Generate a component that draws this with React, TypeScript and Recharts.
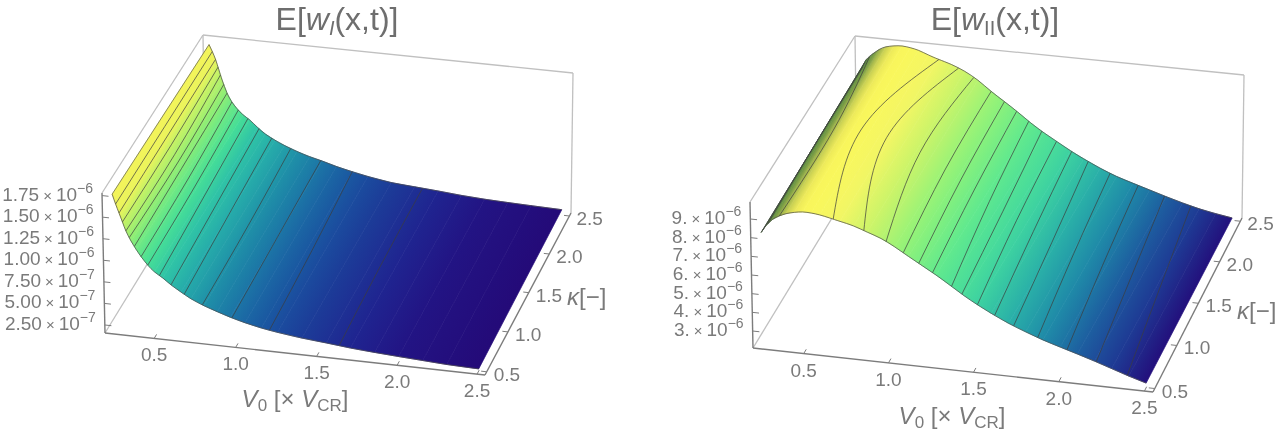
import { ScatterChart, Scatter, XAxis, YAxis } from 'recharts';

// values in units of 1e-6
const leftV = [0.25, 0.27, 0.29, 0.31, 0.33, 0.36, 0.39, 0.42, 0.46, 0.5, 0.55, 0.6, 0.66, 0.72, 0.8, 0.88, 0.96, 1.05, 1.15, 1.25, 1.4, 1.55, 1.7, 1.85, 2.0, 2.15, 2.3, 2.5];
const leftFront = [1.74, 1.63, 1.53, 1.43, 1.33, 1.22, 1.13, 1.05, 0.96, 0.89, 0.83, 0.76, 0.69, 0.625, 0.56, 0.508, 0.46, 0.415, 0.375, 0.345, 0.31, 0.285, 0.257, 0.237, 0.22, 0.205, 0.19, 0.18];
const leftBack = [1.71, 1.63, 1.54, 1.42, 1.3, 1.15, 1.05, 0.98, 0.91, 0.86, 0.78, 0.71, 0.65, 0.6, 0.545, 0.5, 0.465, 0.42, 0.38, 0.345, 0.305, 0.287, 0.27, 0.25, 0.237, 0.23, 0.225, 0.22];
const leftMeshFront = [0.27, 0.29, 0.31, 0.33, 0.35, 0.38, 0.42, 0.46, 0.53, 0.6, 0.68, 0.79, 0.97, 1.2, 1.63];
const leftMeshMid = [0.27, 0.29, 0.31, 0.33, 0.35, 0.37, 0.41, 0.45, 0.51, 0.58, 0.66, 0.78, 0.96, 1.18, 1.61];
const leftMeshBack = [0.27, 0.29, 0.305, 0.32, 0.34, 0.36, 0.39, 0.43, 0.49, 0.56, 0.64, 0.76, 0.95, 1.15, 1.6];

const rightV = [0.25, 0.28, 0.32, 0.36, 0.4, 0.45, 0.5, 0.55, 0.6, 0.66, 0.72, 0.8, 0.88, 0.96, 1.04, 1.12, 1.2, 1.28, 1.36, 1.44, 1.52, 1.6, 1.7, 1.8, 1.9, 2.0, 2.1, 2.2, 2.3, 2.4, 2.5];
const rightFront = [8.15, 8.55, 8.92, 9.14, 9.3, 9.42, 9.49, 9.48, 9.43, 9.32, 9.2, 9.03, 8.78, 8.52, 8.15, 7.72, 7.3, 6.88, 6.42, 5.95, 5.53, 5.15, 4.72, 4.36, 4.03, 3.75, 3.48, 3.2, 2.9, 2.6, 2.33];
const rightBack = [8.32, 8.85, 9.2, 9.48, 9.66, 9.76, 9.8, 9.75, 9.65, 9.45, 9.27, 9.05, 8.75, 8.33, 7.79, 7.3, 6.8, 6.27, 5.8, 5.38, 4.97, 4.6, 4.18, 3.82, 3.54, 3.27, 3.0, 2.75, 2.53, 2.36, 2.22];
const rightMeshFront = [0.26, 0.29, 0.36, 0.68, 0.86, 0.99, 1.09, 1.18, 1.26, 1.37, 1.43, 1.52, 1.62, 1.73, 1.87, 2.04, 2.21, 2.39];
const rightMeshMid = [0.26, 0.28, 0.38, 0.55, 0.7, 0.9, 1.05, 1.14, 1.22, 1.31, 1.39, 1.47, 1.57, 1.68, 1.81, 1.98, 2.15, 2.32];
const rightMeshBack = [0.255, 0.27, 0.3, 0.724, 0.843, 0.935, 1.04, 1.12, 1.194, 1.267, 1.346, 1.435, 1.527, 1.627, 1.76, 1.93, 2.09, 2.25];

const vTicks = [0.5, 1.0, 1.5, 2.0, 2.5];
const kappaTicks = [0.5, 1.0, 1.5, 2.0, 2.5];
const leftZTicks = [0.25, 0.5, 0.75, 1.0, 1.25, 1.5, 1.75];
const leftZLabels = [['2.50', '-7'], ['5.00', '-7'], ['7.50', '-7'], ['1.00', '-6'], ['1.25', '-6'], ['1.50', '-6'], ['1.75', '-6']];
const rightZTicks = [3, 4, 5, 6, 7, 8, 9];
const rightZLabels = [['3.', '-6'], ['4.', '-6'], ['5.', '-6'], ['6.', '-6'], ['7.', '-6'], ['8.', '-6'], ['9.', '-6']];

const leftColors: [number, string][] = [[0.25, '#f4f45a'], [0.29, '#eaf45c'], [0.31, '#c8f265'], [0.35, '#96ee72'], [0.4, '#66e888'], [0.46, '#45dd98'], [0.55, '#30c4a6'], [0.65, '#26aeaa'], [0.8, '#1f90a8'], [1.0, '#1b6ea5'], [1.2, '#1a50a0'], [1.4, '#1c3c98'], [1.7, '#1f2490'], [2.0, '#221484'], [2.5, '#240a78']];
const rightColors: [number, string][] = [[0.25, '#4a7a3c'], [0.3, '#5a8a40'], [0.34, '#7f9f46'], [0.38, '#b4c250'], [0.43, '#e4e258'], [0.48, '#f7f45c'], [0.55, '#f9f75c'], [0.7, '#f4f664'], [0.9, '#c8f46a'], [1.1, '#8ef27a'], [1.3, '#5ce890'], [1.5, '#3fd5a0'], [1.7, '#2ab0a8'], [1.9, '#1f8aa8'], [2.1, '#1d5fa0'], [2.3, '#1e3a94'], [2.5, '#230f7c']];

type Pt = [number, number];
const leftFrame = { b00: [105, 333], b10: [485, 375], b11: [571, 213], b01: [205, 170], t00: [102, 193], t10: [483, 233], t11: [573, 73], t01: [203, 35], zLo: 0.157, zHi: 1.78 };
const rightFrame = { b00: [753, 348], b10: [1153, 392], b11: [1242, 218], b01: [857, 177], t00: [750, 202], t10: [1151, 245], t11: [1244, 75], t01: [855, 36], zLo: 2.09, zHi: 9.91 };
const V_LO = 0.2, V_HI = 2.55, K_LO = 0.46, K_HI = 2.54;

const GREY = '#7a7a7a';
const FONT = '"Liberation Sans", Arial, sans-serif';

function quadMap(p00: number[], p10: number[], p11: number[], p01: number[]) {
  const dx1 = p10[0] - p11[0], dx2 = p01[0] - p11[0], sx = p00[0] - p10[0] + p11[0] - p01[0];
  const dy1 = p10[1] - p11[1], dy2 = p01[1] - p11[1], sy = p00[1] - p10[1] + p11[1] - p01[1];
  const den = dx1 * dy2 - dx2 * dy1;
  const g = (sx * dy2 - dx2 * sy) / den, h = (dx1 * sy - sx * dy1) / den;
  const a = p10[0] - p00[0] + g * p10[0], b = p01[0] - p00[0] + h * p01[0];
  const d = p10[1] - p00[1] + g * p10[1], e = p01[1] - p00[1] + h * p01[1];
  return (u: number, v: number): Pt => {
    const w = g * u + h * v + 1;
    return [(a * u + b * v + p00[0]) / w, (d * u + e * v + p00[1]) / w];
  };
}

function makeProjection(f: typeof leftFrame) {
  const low = quadMap(f.b00, f.b10, f.b11, f.b01);
  const high = quadMap(f.t00, f.t10, f.t11, f.t01);
  return (V: number, k: number, z: number) => {
    const u = (V - V_LO) / (V_HI - V_LO), v = (k - K_LO) / (K_HI - K_LO), t = (z - f.zLo) / (f.zHi - f.zLo);
    const a = low(u, v), b = high(u, v);
    return { x: a[0] + (b[0] - a[0]) * t, y: a[1] + (b[1] - a[1]) * t };
  };
}

function lookup(xs: number[], ys: number[], x: number) {
  let i = 0;
  while (i < xs.length - 2 && xs[i + 1] < x) i++;
  const t = (x - xs[i]) / (xs[i + 1] - xs[i]);
  return ys[i] + (ys[i + 1] - ys[i]) * t;
}

function colorAt(stops: [number, string][], V: number) {
  let i = 0;
  while (i < stops.length - 2 && stops[i + 1][0] < V) i++;
  const t = Math.min(1, Math.max(0, (V - stops[i][0]) / (stops[i + 1][0] - stops[i][0])));
  const hex = (s: string, n: number) => parseInt(s.slice(1 + 2 * n, 3 + 2 * n), 16);
  const c = [0, 1, 2].map(n => Math.round(hex(stops[i][1], n) + (hex(stops[i + 1][1], n) - hex(stops[i][1], n)) * t));
  return `rgb(${c.join(',')})`;
}

const noMark = () => <g />;

function stripLine(id: string, from: string, to: string) {
  return (props: any) => {
    const [p0, p1, p2, p3] = props.points;
    const ux = p1.x - p0.x, uy = p1.y - p0.y, vx = p3.x - p0.x, vy = p3.y - p0.y;
    const s = (ux * vx + uy * vy) / (vx * vx + vy * vy);
    const gx = ux - vx * s, gy = uy - vy * s;
    return (
      <g>
        <defs>
          <linearGradient id={id} gradientUnits="userSpaceOnUse" x1={p0.x} y1={p0.y} x2={p0.x + gx} y2={p0.y + gy}>
            <stop offset="0" stopColor={from} />
            <stop offset="1" stopColor={to} />
          </linearGradient>
        </defs>
        <polygon points={props.points.map((p: any) => `${p.x},${p.y}`).join(' ')} fill={`url(#${id})`} stroke={`url(#${id})`} strokeWidth={0.7} />
      </g>
    );
  };
}

function plainText(size: number, anchor: string, content: any, fill = GREY) {
  return (props: any) => (
    <text x={props.cx} y={props.cy} fontSize={size} fontFamily={FONT} fill={fill} textAnchor={anchor}>{content(props.payload)}</text>
  );
}

interface PanelProps {
  name: string; left: number; frame: typeof leftFrame;
  V: number[]; front: number[]; back: number[];
  meshFront: number[]; meshMid: number[]; meshBack: number[];
  colors: [number, string][];
  zTicks: number[]; zLabels: string[][];
  title: any; titleAt: { x: number; y: number };
  axisAt: { x: number; y: number }; kappaAt: { x: number; y: number };
}

function Panel(p: PanelProps) {
  const project = makeProjection(p.frame);
  const f = p.frame;
  const toPt = (a: number[]) => ({ x: a[0], y: a[1] });
  const backBox = [[f.b00, f.b01], [f.b01, f.t01], [f.t00, f.t01], [f.t01, f.t11], [f.t11, f.b11]];
  const axisBox = [[f.b00, f.b10], [f.b10, f.b11], [f.b00, f.t00]];
  const zAt = (V: number, k: number) => {
    const a = lookup(p.V, p.front, V), b = lookup(p.V, p.back, V);
    return a + (b - a) * (k - 0.5) / 2;
  };
  const strips = p.V.slice(0, -1).map((v, i) => i).reverse();
  const vTickLabels = vTicks.map(v => ({ ...project(v, K_LO, f.zLo), label: v.toFixed(1) }));
  const kTickLabels = kappaTicks.map(k => ({ ...project(V_HI, k, f.zLo), label: k.toFixed(1) }));
  const zTickLabels = p.zTicks.map((z, i) => ({ ...project(V_LO, K_LO, z), label: p.zLabels[i] }));
  return (
    <ScatterChart width={640} height={432} margin={{ top: 0, right: 0, bottom: 0, left: 0 }} style={{ position: 'absolute', left: p.left, top: 0 }}>
      <XAxis type="number" dataKey="x" hide domain={[p.left, p.left + 640]} allowDataOverflow />
      <YAxis type="number" dataKey="y" hide reversed domain={[0, 432]} allowDataOverflow width={0} />
      {backBox.map((seg, i) => (
        <Scatter key={`box${i}`} data={seg.map(toPt)} shape={noMark} line={{ stroke: '#c0c0c0', strokeWidth: 1.3 }} isAnimationActive={false} />
      ))}
      {strips.map(i => (
        <Scatter key={`strip${i}`} isAnimationActive={false} shape={noMark}
          data={[project(p.V[i], 0.5, p.front[i]), project(p.V[i + 1], 0.5, p.front[i + 1]), project(p.V[i + 1], 2.5, p.back[i + 1]), project(p.V[i], 2.5, p.back[i])]}
          line={stripLine(`${p.name}-strip-${i}`, colorAt(p.colors, p.V[i]), colorAt(p.colors, p.V[i + 1]))} />
      ))}
      {p.meshFront.map((v, i) => (
        <Scatter key={`mesh${i}`} isAnimationActive={false} shape={noMark} lineJointType="natural"
          data={[project(v, 0.5, zAt(v, 0.5)), project(p.meshMid[i], 1.5, zAt(p.meshMid[i], 1.5)), project(p.meshBack[i], 2.5, zAt(p.meshBack[i], 2.5))]}
          line={{ stroke: '#3c3c3c', strokeWidth: 1, strokeOpacity: 0.7 }} />
      ))}
      <Scatter isAnimationActive={false} shape={noMark} lineJointType="natural" data={p.V.map((v, i) => project(v, 0.5, p.front[i]))} line={{ stroke: '#4a4a4a', strokeWidth: 0.9, strokeOpacity: 0.8 }} />
      <Scatter isAnimationActive={false} shape={noMark} lineJointType="natural" data={p.V.map((v, i) => project(v, 2.5, p.back[i]))} line={{ stroke: '#4a4a4a', strokeWidth: 0.9, strokeOpacity: 0.8 }} />
      <Scatter isAnimationActive={false} shape={noMark} data={[project(p.V[0], 0.5, p.front[0]), project(p.V[0], 2.5, p.back[0])]} line={{ stroke: '#4a4a4a', strokeWidth: 0.9, strokeOpacity: 0.7 }} />
      {axisBox.map((seg, i) => (
        <Scatter key={`axis${i}`} data={seg.map(toPt)} shape={noMark} line={{ stroke: '#7c7c7c', strokeWidth: 1.4 }} isAnimationActive={false} />
      ))}
      {vTicks.map(v => (
        <Scatter key={`vt${v}`} isAnimationActive={false} shape={noMark} data={[project(v, K_LO, f.zLo), project(v, K_LO + 0.05, f.zLo)]} line={{ stroke: '#7c7c7c', strokeWidth: 1 }} />
      ))}
      {kappaTicks.map(k => (
        <Scatter key={`kt${k}`} isAnimationActive={false} shape={noMark} data={[project(V_HI, k, f.zLo), project(V_HI - 0.035, k, f.zLo)]} line={{ stroke: '#7c7c7c', strokeWidth: 1 }} />
      ))}
      {p.zTicks.map(z => (
        <Scatter key={`zt${z}`} isAnimationActive={false} shape={noMark} data={[project(V_LO, K_LO, z), project(V_LO + 0.04, K_LO, z)]} line={{ stroke: '#7c7c7c', strokeWidth: 1 }} />
      ))}
      <Scatter isAnimationActive={false} data={vTickLabels.map(d => ({ ...d, y: d.y + 23 }))} shape={plainText(19, 'middle', (d: any) => d.label)} />
      <Scatter isAnimationActive={false} data={kTickLabels.map(d => ({ ...d, x: d.x + 7, y: d.y + 9 }))} shape={plainText(19, 'start', (d: any) => d.label)} />
      <Scatter isAnimationActive={false} data={zTickLabels.map(d => ({ ...d, x: d.x - 9, y: d.y + 5 }))}
        shape={plainText(19, 'end', (d: any) => (
          <>
            {d.label[0]}<tspan dx={4} fontSize={15}>×</tspan><tspan dx={4}>10</tspan><tspan dy={-8} fontSize={14}>{d.label[1].replace('-', '−')}</tspan>
          </>
        ))} />
      <Scatter isAnimationActive={false} data={[p.titleAt]} shape={plainText(32, 'middle', () => p.title, '#6e6e6e')} />
      <Scatter isAnimationActive={false} data={[p.axisAt]}
        shape={plainText(24, 'middle', () => (
          <>
            <tspan fontStyle="italic">V</tspan><tspan fontSize={17} dy={4}>0</tspan><tspan dy={-4}> [× </tspan><tspan fontStyle="italic">V</tspan><tspan fontSize={17} dy={4}>CR</tspan><tspan dy={-4}>]</tspan>
          </>
        ))} />
      <Scatter isAnimationActive={false} data={[p.kappaAt]}
        shape={plainText(24, 'start', () => (
          <>
            <tspan fontStyle="italic">κ</tspan>[−]
          </>
        ))} />
    </ScatterChart>
  );
}

const titleLeft = (
  <>
    E[<tspan fontStyle="italic">w</tspan><tspan fontStyle="italic" fontSize={20} dy={5}>I</tspan><tspan dy={-5}>(x,t)]</tspan>
  </>
);
const titleRight = (
  <>
    E[<tspan fontStyle="italic">w</tspan><tspan fontSize={20} dy={5}>II</tspan><tspan dy={-5}>(x,t)]</tspan>
  </>
);

export default function App() {
  return (
    <div style={{ position: 'absolute', left: 0, top: 0, width: 1280, height: 432, filter: 'blur(0.45px)' }}>
      <Panel name="left" left={0} frame={leftFrame} V={leftV} front={leftFront} back={leftBack}
        meshFront={leftMeshFront} meshMid={leftMeshMid} meshBack={leftMeshBack} colors={leftColors}
        zTicks={leftZTicks} zLabels={leftZLabels} title={titleLeft} titleAt={{ x: 337, y: 30 }}
        axisAt={{ x: 295, y: 407 }} kappaAt={{ x: 567, y: 305 }} />
      <Panel name="right" left={640} frame={rightFrame} V={rightV} front={rightFront} back={rightBack}
        meshFront={rightMeshFront} meshMid={rightMeshMid} meshBack={rightMeshBack} colors={rightColors}
        zTicks={rightZTicks} zLabels={rightZLabels} title={titleRight} titleAt={{ x: 995, y: 30 }}
        axisAt={{ x: 952, y: 424 }} kappaAt={{ x: 1237, y: 319 }} />
    </div>
  );
}
